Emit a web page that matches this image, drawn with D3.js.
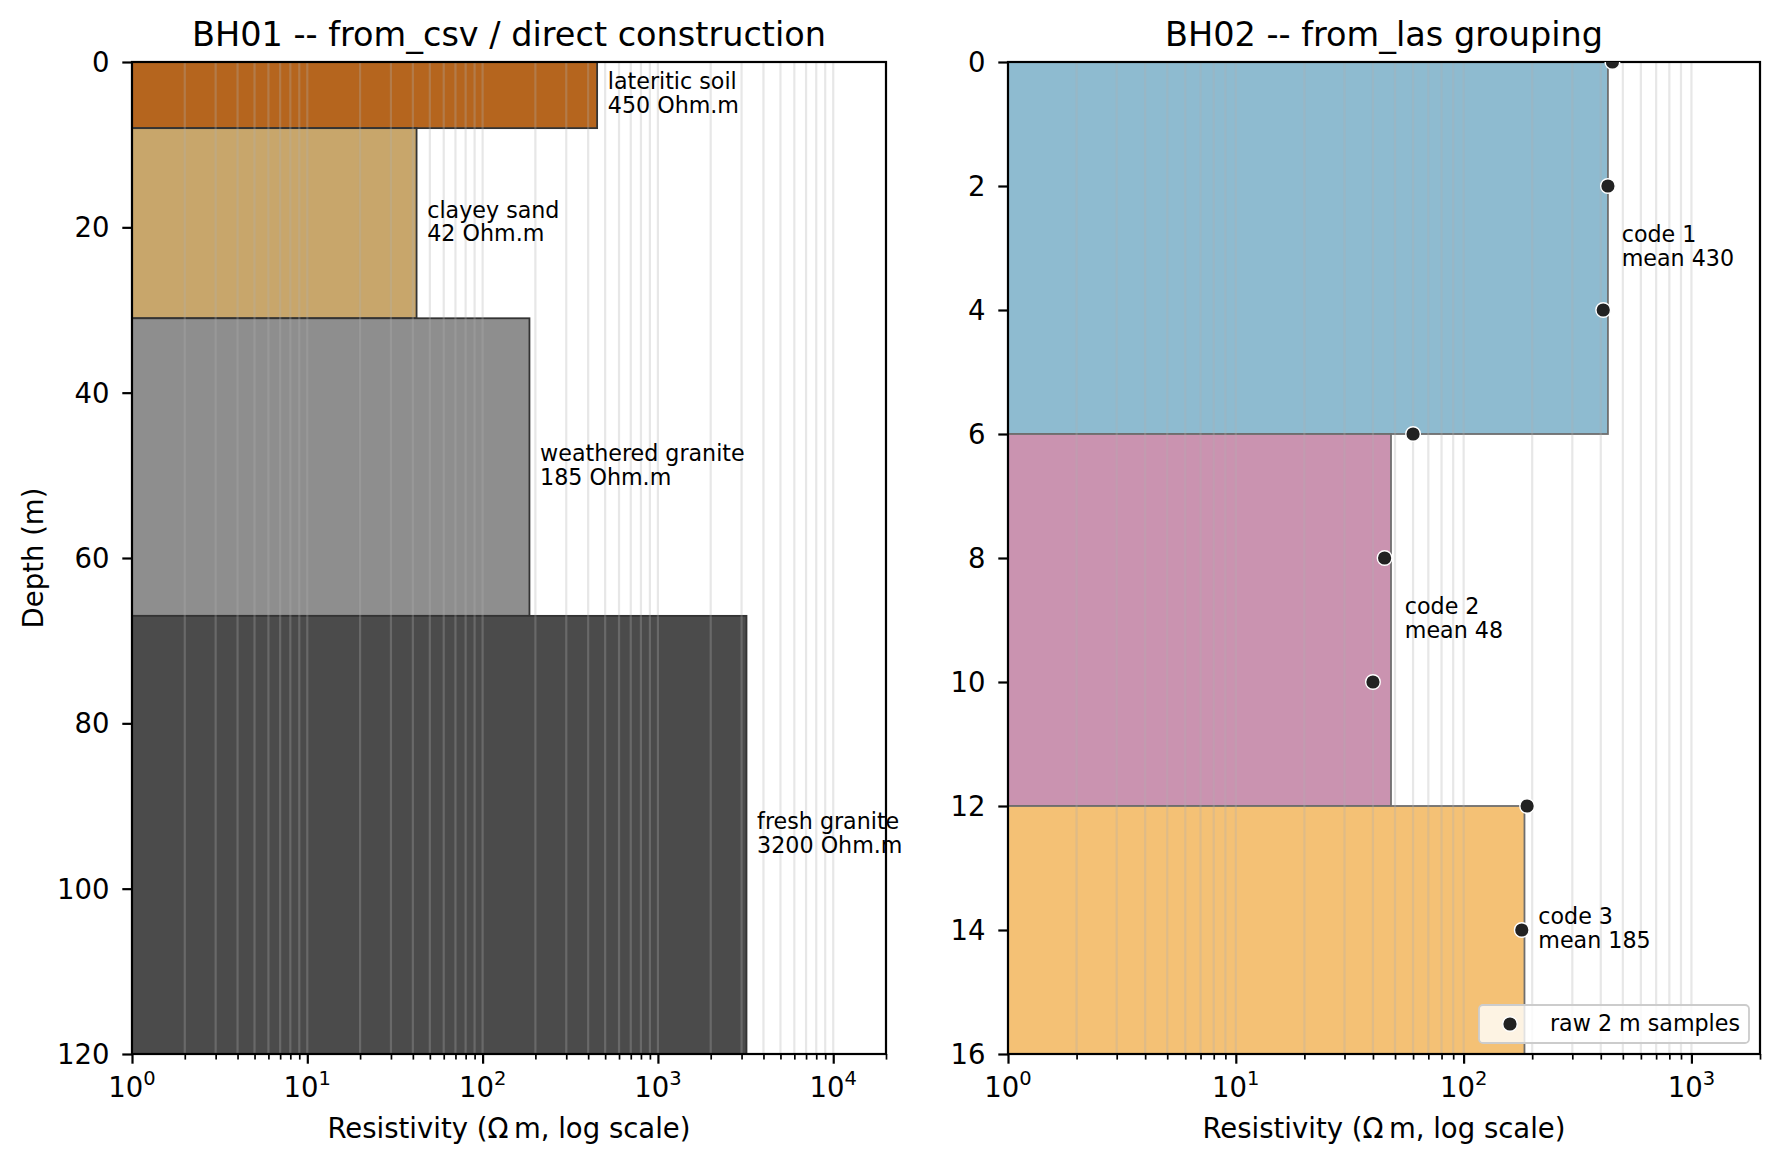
<!DOCTYPE html>
<html>
<head>
<meta charset="utf-8">
<script src="https://cdn.jsdelivr.net/npm/d3@7"></script>
<style>
  body { margin: 0; background: #fff; }
  svg { display: block; font-family: "DejaVu Sans", sans-serif; }
</style>
</head>
<body>
<svg id="chart" width="1780" height="1166"></svg>
<script>
// BH01 layers (direct construction)
const bh01Names = ["lateritic soil", "clayey sand", "weathered granite", "fresh granite"];
const bh01Top = [0, 8, 31, 67];
const bh01Bottom = [8, 31, 67, 120];
const bh01Rho = [450, 42, 185, 3200];
const bh01Colors = ["#b5651e", "#c8a66b", "#8e8e8e", "#4b4b4b"];

// BH02 raw 2 m samples
const bh02Depth = [0, 2, 4, 6, 8, 10, 12, 14];
const bh02Rho = [450, 430, 410, 60, 45, 40, 190, 180];

// BH02 grouped blocks
const bh02Codes = [1, 2, 3];
const bh02Top = [0, 6, 12];
const bh02Bottom = [6, 12, 16];
const bh02Mean = [430, 48, 185];
const bh02Colors = ["#8ebbd0", "#ca93b0", "#f4c175"];

const bh01YTicks = [0, 20, 40, 60, 80, 100, 120];
const bh02YTicks = [0, 2, 4, 6, 8, 10, 12, 14, 16];

const svg = d3.select("#chart");
const plotTop = 62, plotBottom = 1054;

function logTicks(max) {
    const major = [], minor = [];
    for (let p = 0; Math.pow(10, p) <= max; p++) {
        major.push(Math.pow(10, p));
        for (let k = 2; k <= 9; k++) {
            const v = k * Math.pow(10, p);
            if (v <= max) minor.push(v);
        }
    }
    return { major, minor };
}

function panel(opts) {
    const g = svg.append("g");
    const x = d3.scaleLog().domain([1, opts.xmax]).range([opts.left, opts.right]);
    const y = d3.scaleLinear().domain([0, opts.ymax]).range([plotTop, plotBottom]);
    const ticks = logTicks(opts.xmax);

    // blocks
    g.selectAll("rect.block")
        .data(opts.blocks)
        .enter()
        .append("rect")
        .attr("x", x(1))
        .attr("y", d => y(d.top))
        .attr("width", d => x(d.rho) - x(1))
        .attr("height", d => y(d.bottom) - y(d.top))
        .attr("fill", d => d.color)
        .attr("stroke", opts.edge)
        .attr("stroke-width", 1.8);

    // vertical grid, major + minor
    g.append("g")
        .selectAll("line")
        .data(ticks.major.concat(ticks.minor))
        .enter()
        .append("line")
        .attr("x1", d => x(d)).attr("x2", d => x(d))
        .attr("y1", plotTop).attr("y2", plotBottom)
        .attr("stroke", "#b0b0b0")
        .attr("stroke-opacity", 0.3)
        .attr("stroke-width", 2.2);

    // block labels
    opts.blocks.forEach(d => {
        const yc = y((d.top + d.bottom) / 2);
        const t = g.append("text")
            .style("font-size", "22.2px")
            .attr("fill", "#000");
        t.append("tspan").attr("x", x(d.rho * 1.15)).attr("y", yc - 5.7).text(d.line1);
        t.append("tspan").attr("x", x(d.rho * 1.15)).attr("y", yc + 17.6).text(d.line2);
    });

    // axes
    const xAxis = g.append("g")
        .attr("transform", `translate(0,${plotBottom})`)
        .call(d3.axisBottom(x).tickValues(ticks.major).tickFormat("").tickSizeOuter(0).tickSize(9.7));
    xAxis.select(".domain").remove();
    xAxis.selectAll("line").attr("stroke", "#000").attr("stroke-width", 2.2);

    const xMinor = g.append("g")
        .attr("transform", `translate(0,${plotBottom})`)
        .call(d3.axisBottom(x).tickValues(ticks.minor).tickFormat("").tickSizeOuter(0).tickSize(5.6));
    xMinor.select(".domain").remove();
    xMinor.selectAll("line").attr("stroke", "#000").attr("stroke-width", 1.7);

    ticks.major.forEach(v => {
        const t = g.append("text")
            .attr("x", x(v))
            .attr("y", plotBottom + 43)
            .attr("text-anchor", "middle")
            .style("font-size", "27.5px");
        t.append("tspan").text("10");
        t.append("tspan").attr("dy", -11.7).style("font-size", "19.5px").text(Math.round(Math.log10(v)));
    });

    const yAxis = g.append("g")
        .attr("transform", `translate(${opts.left},0)`)
        .call(d3.axisLeft(y).tickValues(opts.yticks).tickFormat("").tickSizeOuter(0).tickSize(9.7));
    yAxis.select(".domain").remove();
    yAxis.selectAll("line").attr("stroke", "#000").attr("stroke-width", 2.2);

    g.append("g")
        .selectAll("text")
        .data(opts.yticks)
        .enter()
        .append("text")
        .attr("x", opts.left - 22.5)
        .attr("y", d => y(d) + 10)
        .attr("text-anchor", "end")
        .style("font-size", "27.5px")
        .text(d => d);

    // spines
    g.append("rect")
        .attr("x", opts.left).attr("y", plotTop)
        .attr("width", opts.right - opts.left).attr("height", plotBottom - plotTop)
        .attr("fill", "none")
        .attr("stroke", "#000")
        .attr("stroke-width", 2.2);

    // title and labels
    g.append("text")
        .attr("x", (opts.left + opts.right) / 2)
        .attr("y", 46)
        .attr("text-anchor", "middle")
        .style("font-size", "33.5px")
        .text(opts.title);

    g.append("text")
        .attr("x", (opts.left + opts.right) / 2)
        .attr("y", 1138)
        .attr("text-anchor", "middle")
        .style("font-size", "27.5px")
        .text("Resistivity (\u03A9\u2009m, log scale)");

    return { g, x, y };
}

// left panel
const leftPanel = panel({
    left: 132, right: 886, xmax: 20000, ymax: 120,
    yticks: bh01YTicks,
    edge: "#333333",
    title: "BH01 -- from_csv / direct construction",
    blocks: bh01Names.map((n, i) => ({
        top: bh01Top[i], bottom: bh01Bottom[i], rho: bh01Rho[i], color: bh01Colors[i],
        line1: n, line2: `${bh01Rho[i]} Ohm.m`
    }))
});

svg.append("text")
    .attr("transform", `translate(43,${(plotTop + plotBottom) / 2}) rotate(-90)`)
    .attr("text-anchor", "middle")
    .style("font-size", "27.5px")
    .text("Depth (m)");

// right panel
const rightPanel = panel({
    left: 1008, right: 1760, xmax: 2000, ymax: 16,
    yticks: bh02YTicks,
    edge: "#6e6e6e",
    title: "BH02 -- from_las grouping",
    blocks: bh02Codes.map((c, i) => ({
        top: bh02Top[i], bottom: bh02Bottom[i], rho: bh02Mean[i], color: bh02Colors[i],
        line1: `code ${c}`, line2: `mean ${bh02Mean[i]}`
    }))
});

svg.append("clipPath").attr("id", "clipR")
    .append("rect")
    .attr("x", 1008).attr("y", plotTop)
    .attr("width", 1760 - 1008).attr("height", plotBottom - plotTop);

svg.append("g")
    .attr("clip-path", "url(#clipR)")
    .selectAll("circle")
    .data(bh02Depth.map((d, i) => ({ depth: d, rho: bh02Rho[i] })))
    .enter()
    .append("circle")
    .attr("cx", d => rightPanel.x(d.rho))
    .attr("cy", d => rightPanel.y(d.depth))
    .attr("r", 7.3)
    .attr("fill", "#222222")
    .attr("stroke", "#ffffff")
    .attr("stroke-width", 1.4);

// legend
const legend = svg.append("g");
legend.append("rect")
    .attr("x", 1479).attr("y", 1005)
    .attr("width", 270).attr("height", 38)
    .attr("rx", 4)
    .attr("fill", "#ffffff").attr("fill-opacity", 0.8)
    .attr("stroke", "#cccccc").attr("stroke-width", 1.8);
legend.append("circle")
    .attr("cx", 1510).attr("cy", 1024)
    .attr("r", 7.3)
    .attr("fill", "#222222")
    .attr("stroke", "#ffffff")
    .attr("stroke-width", 1.4);
legend.append("text")
    .attr("x", 1550).attr("y", 1031)
    .style("font-size", "22.2px")
    .text("raw 2 m samples");
</script>
</body>
</html>
